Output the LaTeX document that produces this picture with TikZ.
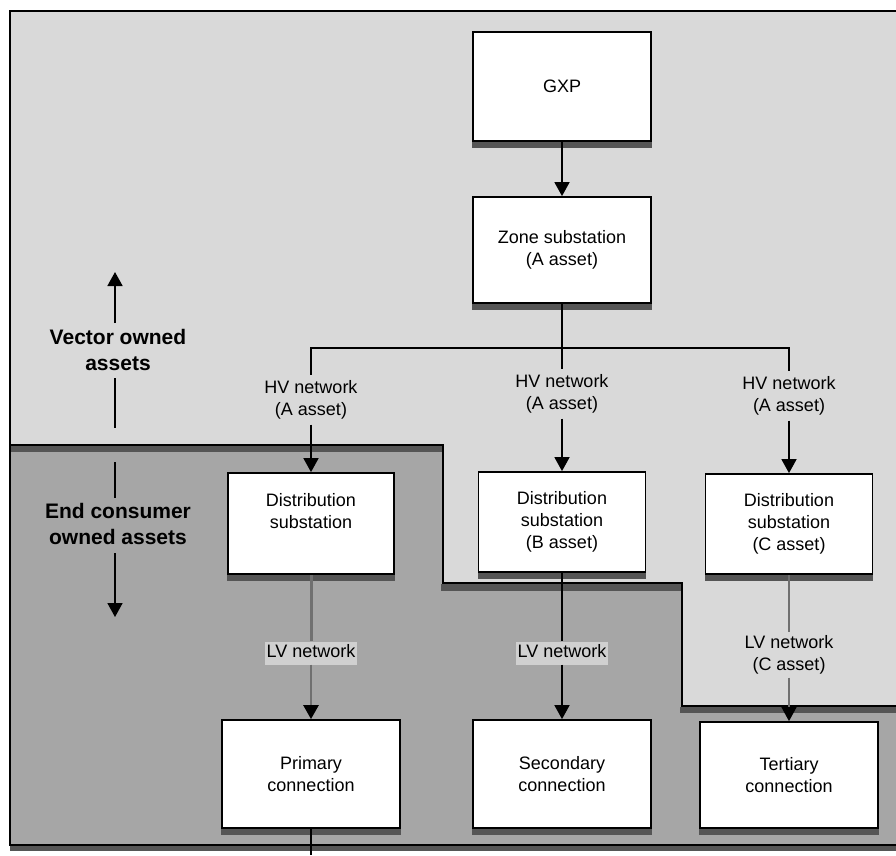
\documentclass[tikz,border=0pt]{standalone}
\usepackage{fontspec}
\setmainfont{Liberation Sans}
\usetikzlibrary{arrows.meta}
\definecolor{lightarea}{HTML}{D9D9D9}
\definecolor{darkarea}{HTML}{A6A6A6}
\definecolor{shadowc}{HTML}{555555}
\definecolor{lvbg}{HTML}{D0D0D0}
\definecolor{greyline}{HTML}{707070}
\newcommand\boxshadow[1]{\fill[shadowc] (#1.south west) rectangle ([yshift=-6pt]#1.south east);}
\begin{document}
\begin{tikzpicture}[x=1pt,y=-1pt,
  box/.style={draw=black, line width=1.8pt, fill=white, align=center,
    font=\fontsize{18}{22}\selectfont, inner sep=0pt},
  lbl/.style={align=center, font=\fontsize{18}{22}\selectfont, inner xsep=2pt, inner ysep=5pt, fill=lightarea},
  lvlbl/.style={align=center, font=\fontsize{18}{22}\selectfont, inner xsep=2pt, inner ysep=3pt,
    text height=13pt, text depth=4pt, fill=lvbg},
  side/.style={align=center, font=\fontsize{21}{26}\selectfont\bfseries, inner sep=0pt},
  conn/.style={line width=1.7pt, draw=black},
  arr/.style={conn, -{Triangle[width=15pt,length=14pt]}},
  grayarr/.style={draw=greyline, -{Triangle[width=15pt,length=14pt,black]}},
  frame/.style={line width=1.8pt, draw=black}
]
\useasboundingbox[fill=white] (0,0) rectangle (896,855);
% areas
\fill[lightarea] (10,11) rectangle (896,845);
\fill[darkarea] (10,445) -- (443,445) -- (443,583) -- (682,583) -- (682,706) -- (896,706) -- (896,845) -- (10,845) -- cycle;
% shadows of border lines
\fill[shadowc] (10,446) rectangle (443,452);
\fill[shadowc] (441,584) rectangle (682,591);
\fill[shadowc] (680,707) rectangle (896,713);
\fill[shadowc] (10,846) rectangle (896,851);
% border lines
\draw[frame] (896,11) -- (10,11) -- (10,845) -- (896,845);
\draw[frame] (10,445) -- (443,445) -- (443,583) -- (682,583) -- (682,706) -- (896,706);

% nodes
\node[box, minimum width=178pt, minimum height=109pt] (gxp) at (562,86.5) {GXP};
\node[box, minimum width=178pt, minimum height=106pt] (zone) at (562,250) {Zone substation\\(A asset)};
\node[lbl] (hv1) at (311,400) {HV network\\(A asset)};
\node[lbl] (hv2) at (562,394) {HV network\\(A asset)};
\node[lbl] (hv3) at (789,396) {HV network\\(A asset)};
\node[box, minimum width=166pt, minimum height=101pt] (ds1) at (311,523.5) {Distribution\\substation\\\phantom{(B asset)}};
\node[box, minimum width=167pt, minimum height=100pt] (ds2) at (562,522) {Distribution\\substation\\(B asset)};
\node[box, minimum width=167pt, minimum height=100pt] (ds3) at (789,524) {Distribution\\substation\\(C asset)};
\node[lvlbl] (lv1) at (311,653) {LV network};
\node[lvlbl] (lv2) at (562,653) {LV network};
\node[lbl, inner ysep=3pt] (lv3) at (789,655) {LV network\\(C asset)};
\node[box, minimum width=178pt, minimum height=108pt] (pc) at (311,774) {Primary\\connection};
\node[box, minimum width=178pt, minimum height=108pt] (sc) at (562,774) {Secondary\\connection};
\node[box, minimum width=178pt, minimum height=106pt] (tc) at (789,775) {Tertiary\\connection};

\node[side] (vo) at (118,350) {Vector owned\\assets};
\node[side] (ec) at (118,524) {End consumer\\owned assets};

% box shadows
\boxshadow{gxp}
\boxshadow{zone}
\boxshadow{ds1}
\boxshadow{ds2}
\boxshadow{ds3}
\boxshadow{pc}
\boxshadow{sc}
\boxshadow{tc}

% connectors
\coordinate (bus) at (562,348);
\draw[arr] (gxp.south) -- (zone.north);
\draw[conn] (zone.south) -- (bus);
\draw[conn] (bus) -| (hv1.north);
\draw[conn] (bus) -| (hv3.north);
\draw[conn] (bus) -- (hv2.north);
\draw[arr] (hv1.south) -- (ds1.north);
\draw[arr] (hv2.south) -- (ds2.north);
\draw[arr] (hv3.south) -- (ds3.north);
\draw[draw=greyline, line width=3pt] (ds1.south) -- (lv1.north);
\draw[grayarr, line width=2.6pt] (lv1.south) -- (pc.north);
\draw[conn] (ds2.south) -- (lv2.north);
\draw[arr] (lv2.south) -- (sc.north);
\draw[draw=greyline, line width=1.2pt] (ds3.south) -- (lv3.north);
\draw[grayarr, line width=1.2pt] (lv3.south) -- (tc.north);
\coordinate (pcend) at (311,855);
\draw[conn] (pc.south) -- (pcend);

% side arrows
\coordinate (va1) at (115,323);
\coordinate (va2) at (115,272);
\coordinate (vb1) at (115,378);
\coordinate (vb2) at (115,428);
\coordinate (ea1) at (115,462);
\coordinate (ea2) at (115,498);
\coordinate (eb1) at (115,553);
\coordinate (eb2) at (115,617);
\draw[arr] (va1) -- (va2);
\draw[conn] (vb1) -- (vb2);
\draw[conn] (ea1) -- (ea2);
\draw[arr] (eb1) -- (eb2);
\end{tikzpicture}
\end{document}
